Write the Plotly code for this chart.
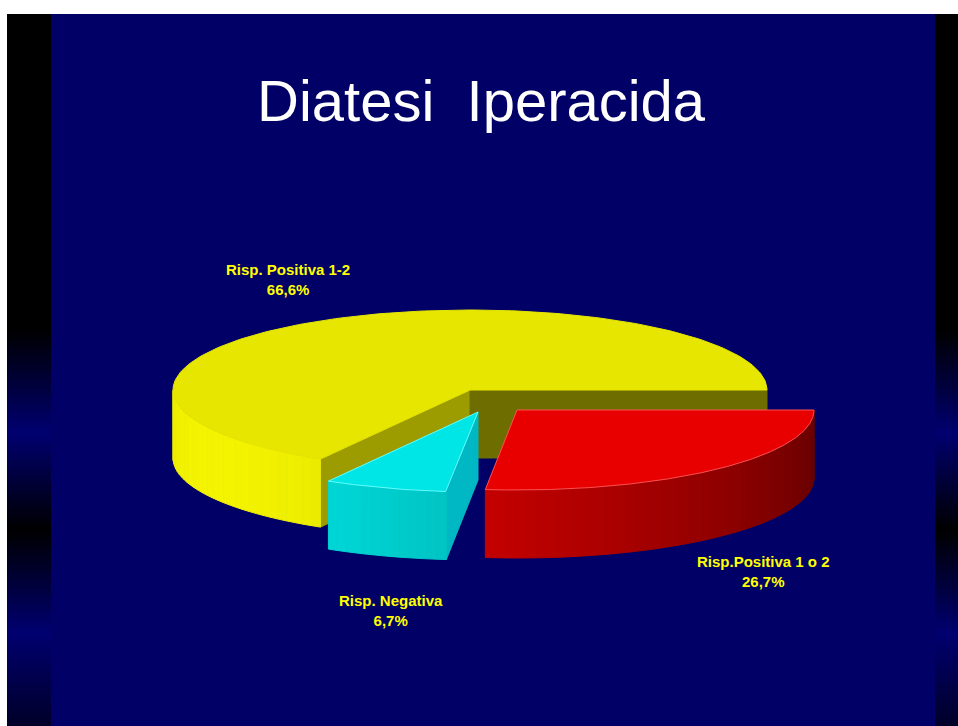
import numpy as np
import plotly.graph_objects as go

# ---------------- data ----------------
labels = ["Risp.Positiva 1 o 2", "Risp. Negativa", "Risp. Positiva 1-2"]   # clockwise from 3 o'clock
values = [26.7, 6.7, 66.6]
title_text = "Diatesi\u00a0 Iperacida"

# ---------------- style ----------------
W, H = 958, 726
CX, CY = 470, 390        # centre of the pie top (pixels)
RA, RB = 297, 80         # ellipse semi-axes
DEPTH = 68               # pie thickness
explode = [(47, 20), (8, 22), (0, 0)]
base_rgb = [(255, 0, 0), (0, 255, 255), (255, 255, 0)]
side_gain = [1.0, 1.0, 1.1]
top_colors = ["#E80000", "#00E6E6", "#E6E600"]
edge_colors = ["#FF5050", "#60FFFF", "#E6E600"]
wall_colors = [{"hi": "#700000", "lo": "#900000"},
               {"hi": "#00B8C4", "lo": "#00A0A0"},
               {"hi": "#9C9C00", "lo": "#6E6E00"}]
label_pos = [(763, 571), (391, 610), (288, 279)]
draw_order = [2, 1, 0]
NAVY = "#000066"


def pt(cx, cy, t, dz=0.0):
    r = np.radians(t)
    return cx + RA * np.cos(r), cy - RB * np.sin(r) + dz


def bright(t):
    return 0.62 + 0.25 * np.cos(np.radians(t + 150))


def rgb(c, f):
    return "rgb(%d,%d,%d)" % tuple(min(255, int(round(v * f))) for v in c)


def poly(fig, xs, ys, color, lw=1, lcolor=None):
    fig.add_trace(go.Scatter(x=list(xs) + [xs[0]], y=list(ys) + [ys[0]], mode="lines",
                             fill="toself", fillcolor=color,
                             line=dict(color=lcolor or color, width=lw),
                             hoverinfo="skip", showlegend=False))


# angle spans computed from the values
total = sum(values)
spans = []
start = 0.0
for v in values:
    sp = v / total * 360.0
    spans.append((start - sp, start))   # (lo, hi)
    start -= sp

fig = go.Figure()

for i in draw_order:
    lo, hi = spans[i]
    cx, cy = CX + explode[i][0], CY + explode[i][1]
    vx, vy = cx, cy
    # cut walls
    for edge, ang, normal in (("hi", hi, hi + 90), ("lo", lo, lo - 90)):
        if np.sin(np.radians(normal)) < -1e-6:
            ex, ey = pt(cx, cy, ang)
            poly(fig, [vx, ex, ex, vx], [vy, ey, ey + DEPTH, vy + DEPTH], wall_colors[i][edge])
    # outer side wall, in small shaded segments
    n = max(2, int(np.ceil((hi - lo) / 2.0)))
    edges = np.linspace(lo, hi, n + 1)
    for t0, t1 in zip(edges[:-1], edges[1:]):
        tm = 0.5 * (t0 + t1)
        if np.sin(np.radians(tm)) < 0:
            ts = np.linspace(t0, t1, 4)
            top = [pt(cx, cy, t) for t in ts]
            bot = [pt(cx, cy, t, DEPTH) for t in ts[::-1]]
            pts = top + bot
            poly(fig, [p[0] for p in pts], [p[1] for p in pts],
                 rgb(base_rgb[i], bright(tm) * side_gain[i]))
    # top face
    ts = np.linspace(hi, lo, 200)
    arc = [pt(cx, cy, t) for t in ts]
    xs = [vx] + [p[0] for p in arc]
    ys = [vy] + [p[1] for p in arc]
    poly(fig, xs, ys, top_colors[i], lw=1, lcolor=edge_colors[i])

# labels
for i, lab in enumerate(labels):
    pct = ("%.1f" % values[i]).replace(".", ",") + "%"
    fig.add_annotation(x=label_pos[i][0], y=label_pos[i][1], xref="x", yref="y",
                       text="<b>%s<br>%s</b>" % (lab, pct), showarrow=False,
                       font=dict(family="Liberation Sans, Arial", size=15, color="#FFFF00"),
                       align="center", xanchor="center", yanchor="middle")

fig.add_annotation(x=481, y=100, xref="x", yref="y", text=title_text, showarrow=False,
                   font=dict(family="Liberation Sans, Arial", size=58, color="white"),
                   xanchor="center", yanchor="middle")

# background decoration (slide frame)
shapes = [dict(type="rect", xref="x", yref="y", x0=0, x1=W, y0=0, y1=14,
               fillcolor="white", line=dict(width=0), layer="below"),
          dict(type="rect", xref="x", yref="y", x0=0, x1=7, y0=0, y1=H,
               fillcolor="white", line=dict(width=0), layer="below")]
ky = [14, 330, 433, 530, 633, 726]
kb = [0, 0, 112, 0, 112, 40]
step = 4
for y0 in range(14, H, step):
    b = np.interp(y0 + step / 2, ky, kb)
    col = "rgb(0,0,%d)" % int(round(b))
    for x0, x1 in ((7, 51), (935, W)):
        shapes.append(dict(type="rect", xref="x", yref="y", x0=x0, x1=x1, y0=y0, y1=min(H, y0 + step),
                           fillcolor=col, line=dict(width=0), layer="below"))

fig.update_layout(width=W, height=H, margin=dict(l=0, r=0, t=0, b=0),
                  paper_bgcolor=NAVY, plot_bgcolor="rgba(0,0,0,0)", showlegend=False,
                  xaxis=dict(range=[0, W], visible=False, fixedrange=True),
                  yaxis=dict(range=[H, 0], visible=False, fixedrange=True),
                  shapes=shapes)

fig.write_html("out.html", config={"displayModeBar": False},
               post_script="document.body.style.margin='0';document.body.style.overflow='hidden';")
